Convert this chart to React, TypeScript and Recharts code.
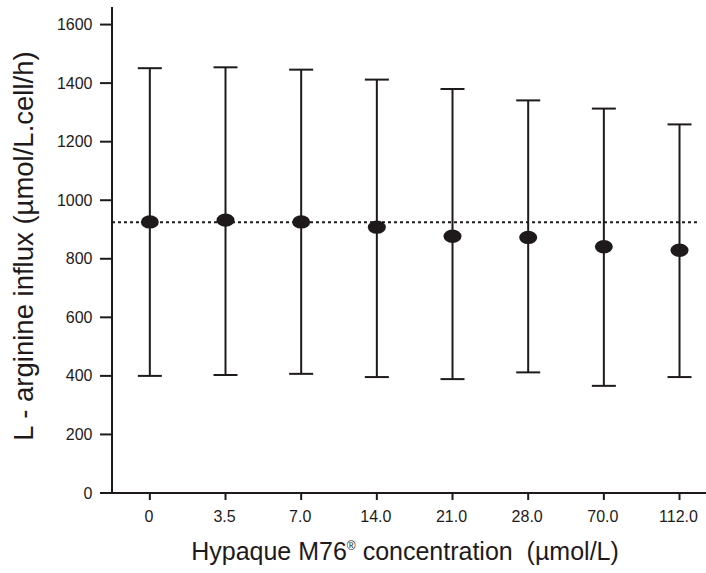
import { ComposedChart, Scatter, ErrorBar, XAxis, YAxis, ReferenceLine } from "recharts"

const concentrations = ["0", "3.5", "7.0", "14.0", "21.0", "28.0", "70.0", "112.0"]
const influxMean = [926, 932, 926, 908, 877, 873, 841, 829]
const influxLow = [400, 403, 407, 396, 389, 412, 366, 396]
const influxHigh = [1451, 1454, 1446, 1412, 1380, 1341, 1313, 1259]
const yTicks = [0, 200, 400, 600, 800, 1000, 1200, 1400, 1600]
const controlLevel = 925

const ink = "#1e1a1b"
const font = "'Liberation Sans', Arial, sans-serif"

const data = concentrations.map((label, i) => ({
  x: i,
  label,
  y: influxMean[i],
  err: [influxMean[i] - influxLow[i], influxHigh[i] - influxMean[i]],
}))

const Dot = (props: any) => {
  const { cx, cy } = props
  if (cx == null || cy == null) return null
  return <ellipse cx={cx} cy={cy} rx={9} ry={6.7} fill={ink} />
}

const renderXTick = (props: any) => {
  const { x, y, payload } = props
  return (
    <text key={`xt-${payload.value}`} x={x - 1} y={y + 22} textAnchor="middle" fontFamily={font} fontSize={16} fill={ink}>
      {concentrations[payload.value]}
    </text>
  )
}

const renderYTick = (props: any) => {
  const { x, y, payload } = props
  return (
    <text key={`yt-${payload.value}`} x={x - 7.5} y={y + 5.5} textAnchor="end" fontFamily={font} fontSize={16} fill={ink}>
      {payload.value}
    </text>
  )
}

const XTitle = () => (
  <text x={405} y={560} textAnchor="middle" fontFamily={font} fontSize={25} fill={ink} style={{ whiteSpace: "pre" }}>
    Hypaque M76
    <tspan fontSize={12} dy={-10}>®</tspan>
    <tspan dy={10}>{" concentration  (µmol/L)"}</tspan>
  </text>
)

const YTitle = () => (
  <text
    x={33}
    y={246}
    transform="rotate(-90 33 246)"
    textAnchor="middle"
    fontFamily={font}
    fontSize={27.5}
    fill={ink}
  >
    L - arginine influx (µmol/L.cell/h)
  </text>
)

export default function App() {
  return (
    <div style={{ position: "absolute", left: 0, top: 0, background: "#fff", fontFamily: font }}>
      <ComposedChart width={706} height={573} data={data} margin={{ top: 7, right: 0, bottom: 0, left: 0 }}>
        <XAxis
          type="number"
          dataKey="x"
          domain={[-0.5, 7.35]}
          ticks={[0, 1, 2, 3, 4, 5, 6, 7]}
          allowDataOverflow
          height={80}
          tickSize={7}
          tickMargin={0}
          axisLine={{ stroke: ink, strokeWidth: 2 }}
          tickLine={{ stroke: ink, strokeWidth: 2 }}
          tick={renderXTick}
          label={<XTitle />}
        />
        <YAxis
          type="number"
          dataKey="y"
          domain={[0, 1660]}
          ticks={yTicks}
          allowDataOverflow
          width={112}
          tickSize={12}
          tickMargin={0}
          axisLine={{ stroke: ink, strokeWidth: 2 }}
          tickLine={{ stroke: ink, strokeWidth: 2 }}
          tick={renderYTick}
          label={<YTitle />}
        />
        <ReferenceLine
          segment={[{ x: -0.5, y: controlLevel }, { x: 7.25, y: controlLevel }]}
          stroke={ink}
          strokeWidth={2}
          strokeDasharray="3 3"
        />
        <Scatter dataKey="y" shape={<Dot />} isAnimationActive={false}>
          <ErrorBar dataKey="err" direction="y" width={12} stroke={ink} strokeWidth={2} isAnimationActive={false} />
        </Scatter>
      </ComposedChart>
    </div>
  )
}
